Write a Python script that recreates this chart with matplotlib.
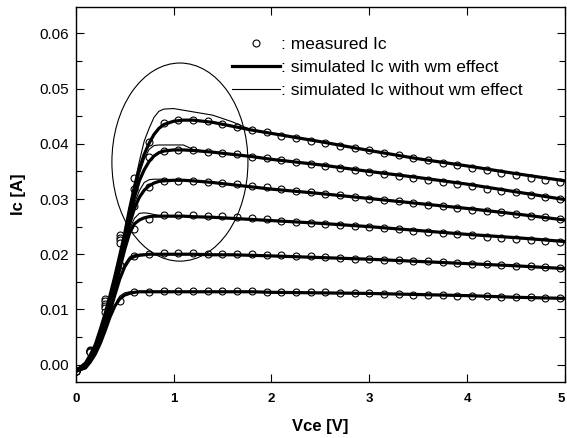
import matplotlib
matplotlib.use("Agg")
import matplotlib.pyplot as plt
from matplotlib.patches import Ellipse
from matplotlib.lines import Line2D
from matplotlib.ticker import MultipleLocator, FixedLocator

plt.rcParams['font.family'] = ['Liberation Sans', 'DejaVu Sans']

# ---------------- data ----------------
v_meas = [0.00, 0.15, 0.30, 0.45, 0.60, 0.75, 0.90, 1.05, 1.20, 1.35, 1.50, 1.65,
          1.80, 1.95, 2.10, 2.25, 2.40, 2.55, 2.70, 2.85, 3.00, 3.15, 3.30, 3.45,
          3.60, 3.75, 3.90, 4.05, 4.20, 4.35, 4.50, 4.65, 4.80, 4.95]

meas_1 = [-0.0012, 0.0026, 0.0118, 0.0234, 0.0338, 0.0403, 0.0437, 0.0444, 0.0444, 0.0442, 0.0436, 0.0430,
          0.0425, 0.0421, 0.0415, 0.0411, 0.0406, 0.0401, 0.0397, 0.0392, 0.0388, 0.0383, 0.0379, 0.0374,
          0.0370, 0.0365, 0.0361, 0.0357, 0.0352, 0.0348, 0.0343, 0.0339, 0.0334, 0.0330]
meas_2 = [-0.0012, 0.0025, 0.0115, 0.0230, 0.0318, 0.0376, 0.0387, 0.0389, 0.0389, 0.0386, 0.0383, 0.0381,
          0.0377, 0.0374, 0.0371, 0.0367, 0.0363, 0.0360, 0.0356, 0.0352, 0.0349, 0.0345, 0.0341, 0.0338,
          0.0334, 0.0330, 0.0327, 0.0323, 0.0319, 0.0315, 0.0312, 0.0308, 0.0304, 0.0300]
meas_3 = [-0.0012, 0.0024, 0.0110, 0.0225, 0.0287, 0.0322, 0.0332, 0.0333, 0.0333, 0.0331, 0.0329, 0.0327,
          0.0324, 0.0321, 0.0318, 0.0315, 0.0313, 0.0310, 0.0307, 0.0304, 0.0301, 0.0298, 0.0296, 0.0293,
          0.0290, 0.0287, 0.0284, 0.0281, 0.0279, 0.0276, 0.0273, 0.0270, 0.0267, 0.0264]
meas_4 = [-0.0012, 0.0024, 0.0106, 0.0220, 0.0245, 0.0264, 0.0271, 0.0271, 0.0271, 0.0270, 0.0269, 0.0268,
          0.0265, 0.0263, 0.0261, 0.0259, 0.0257, 0.0255, 0.0253, 0.0251, 0.0249, 0.0247, 0.0245, 0.0243,
          0.0241, 0.0239, 0.0236, 0.0234, 0.0232, 0.0230, 0.0228, 0.0226, 0.0224, 0.0222]
meas_5 = [-0.0012, 0.0023, 0.0102, 0.0180, 0.0196, 0.0201, 0.0202, 0.0202, 0.0202, 0.0201, 0.0201, 0.0200,
          0.0200, 0.0199, 0.0198, 0.0197, 0.0196, 0.0195, 0.0194, 0.0192, 0.0191, 0.0190, 0.0189, 0.0188,
          0.0187, 0.0186, 0.0184, 0.0183, 0.0182, 0.0180, 0.0179, 0.0178, 0.0176, 0.0175]
meas_6 = [-0.0012, 0.0022, 0.0095, 0.0115, 0.0131, 0.0132, 0.0133, 0.0133, 0.0133, 0.0133, 0.0133, 0.0133,
          0.0133, 0.0132, 0.0132, 0.0132, 0.0131, 0.0131, 0.0130, 0.0130, 0.0129, 0.0128, 0.0128, 0.0127,
          0.0126, 0.0126, 0.0125, 0.0124, 0.0124, 0.0123, 0.0122, 0.0122, 0.0121, 0.0120]

v_sim = [0.0, 0.1, 0.15, 0.2, 0.25, 0.3, 0.35, 0.4, 0.45, 0.5, 0.55, 0.6, 0.65, 0.7, 0.75, 0.8,
         0.85, 0.9, 1.0, 1.1, 1.2, 1.4, 1.6, 1.8, 2.0, 2.5, 3.0, 3.5, 4.0, 4.5, 5.0]

# simulated Ic with wm effect
wm_1 = [-0.0012, 0.0003, 0.0018, 0.0036, 0.0063, 0.0092, 0.0125, 0.0160, 0.0198, 0.0237, 0.0282, 0.0322, 0.0355, 0.0381, 0.0401, 0.0417,
        0.0428, 0.0435, 0.0441, 0.0443, 0.0443, 0.0439, 0.0432, 0.0425, 0.0419, 0.0404, 0.0388, 0.0373, 0.0360, 0.0346, 0.0333]
wm_2 = [-0.0012, 0.0000, 0.0014, 0.0032, 0.0057, 0.0085, 0.0117, 0.0152, 0.0190, 0.0229, 0.0268, 0.0303, 0.0333, 0.0353, 0.0368, 0.0378,
        0.0384, 0.0387, 0.0389, 0.0389, 0.0388, 0.0385, 0.0381, 0.0377, 0.0372, 0.0362, 0.0350, 0.0339, 0.0327, 0.0313, 0.0299]
wm_3 = [-0.0012, -0.0002, 0.0011, 0.0028, 0.0052, 0.0079, 0.0110, 0.0145, 0.0182, 0.0219, 0.0254, 0.0283, 0.0303, 0.0316, 0.0324, 0.0329,
        0.0332, 0.0333, 0.0334, 0.0334, 0.0333, 0.0330, 0.0326, 0.0322, 0.0318, 0.0310, 0.0301, 0.0292, 0.0283, 0.0273, 0.0262]
wm_4 = [-0.0012, -0.0004, 0.0009, 0.0025, 0.0048, 0.0074, 0.0104, 0.0138, 0.0173, 0.0208, 0.0238, 0.0255, 0.0262, 0.0266, 0.0268, 0.0269,
        0.0269, 0.0269, 0.0269, 0.0269, 0.0268, 0.0267, 0.0265, 0.0263, 0.0261, 0.0256, 0.0250, 0.0243, 0.0236, 0.0230, 0.0223]
wm_5 = [-0.0012, -0.0005, 0.0007, 0.0022, 0.0043, 0.0068, 0.0096, 0.0126, 0.0155, 0.0177, 0.0191, 0.0196, 0.0198, 0.0199, 0.0200, 0.0200,
        0.0200, 0.0200, 0.0200, 0.0200, 0.0200, 0.0199, 0.0199, 0.0198, 0.0197, 0.0194, 0.0191, 0.0187, 0.0183, 0.0179, 0.0174]
wm_6 = [-0.0012, -0.0006, 0.0005, 0.0019, 0.0038, 0.0061, 0.0086, 0.0106, 0.0119, 0.0126, 0.0129, 0.0131, 0.0132, 0.0132, 0.0132, 0.0132,
        0.0132, 0.0132, 0.0132, 0.0132, 0.0132, 0.0132, 0.0132, 0.0132, 0.0131, 0.0130, 0.0129, 0.0127, 0.0125, 0.0122, 0.0120]

# simulated Ic without wm effect
nowm_1 = [-0.0012, 0.0003, 0.0018, 0.0036, 0.0063, 0.0092, 0.0125, 0.0160, 0.0198, 0.0240, 0.0285, 0.0327, 0.0368, 0.0405, 0.0428, 0.0448,
          0.0459, 0.0463, 0.0464, 0.0461, 0.0458, 0.0452, 0.0440, 0.0425, 0.0419, 0.0404, 0.0388, 0.0373, 0.0360, 0.0346, 0.0333]
nowm_2 = [-0.0012, 0.0000, 0.0014, 0.0032, 0.0057, 0.0085, 0.0117, 0.0152, 0.0190, 0.0230, 0.0270, 0.0308, 0.0345, 0.0372, 0.0390, 0.0397,
          0.0398, 0.0398, 0.0398, 0.0398, 0.0390, 0.0385, 0.0381, 0.0377, 0.0372, 0.0362, 0.0350, 0.0339, 0.0327, 0.0313, 0.0299]
nowm_3 = [-0.0012, -0.0002, 0.0011, 0.0028, 0.0052, 0.0079, 0.0110, 0.0145, 0.0182, 0.0221, 0.0258, 0.0292, 0.0315, 0.0330, 0.0335, 0.0336,
          0.0336, 0.0336, 0.0335, 0.0334, 0.0333, 0.0330, 0.0326, 0.0322, 0.0318, 0.0310, 0.0301, 0.0292, 0.0283, 0.0273, 0.0262]
nowm_4 = [-0.0012, -0.0004, 0.0009, 0.0025, 0.0048, 0.0074, 0.0104, 0.0138, 0.0175, 0.0212, 0.0245, 0.0265, 0.0274, 0.0275, 0.0274, 0.0272,
          0.0270, 0.0269, 0.0269, 0.0269, 0.0268, 0.0267, 0.0265, 0.0263, 0.0261, 0.0256, 0.0250, 0.0243, 0.0236, 0.0230, 0.0223]
nowm_5 = [-0.0012, -0.0005, 0.0007, 0.0022, 0.0043, 0.0068, 0.0096, 0.0126, 0.0157, 0.0182, 0.0195, 0.0199, 0.0200, 0.0200, 0.0200, 0.0200,
          0.0200, 0.0200, 0.0200, 0.0200, 0.0200, 0.0199, 0.0199, 0.0198, 0.0197, 0.0194, 0.0191, 0.0187, 0.0183, 0.0179, 0.0174]
nowm_6 = [-0.0012, -0.0006, 0.0005, 0.0019, 0.0038, 0.0061, 0.0086, 0.0108, 0.0124, 0.0130, 0.0132, 0.0132, 0.0132, 0.0132, 0.0132, 0.0132,
          0.0132, 0.0132, 0.0132, 0.0132, 0.0132, 0.0132, 0.0132, 0.0132, 0.0131, 0.0130, 0.0129, 0.0127, 0.0125, 0.0122, 0.0120]

# highlighted region (ellipse) in data units
ellipse_center = (1.065, 0.0367)
ellipse_width = 1.39
ellipse_height = 0.0359

x_ticks = [0, 1, 2, 3, 4, 5]
x_ticklabels = ['0', '1', '2', '3', '4', '5']
y_ticks = [0.00, 0.01, 0.02, 0.03, 0.04, 0.05, 0.06]
y_ticklabels = ['0.00', '0.01', '0.02', '0.03', '0.04', '0.05', '0.06']

legend_labels = [': measured Ic', ': simulated Ic with wm effect', ': simulated Ic without wm effect']

# ---------------- plot ----------------
fig = plt.figure(figsize=(5.67, 4.38), dpi=100)
ax = fig.add_axes([0.1335, 0.1285, 0.8630, 0.8555])

meas = [meas_1, meas_2, meas_3, meas_4, meas_5, meas_6]
wm = [wm_1, wm_2, wm_3, wm_4, wm_5, wm_6]
nowm = [nowm_1, nowm_2, nowm_3, nowm_4, nowm_5, nowm_6]

for m in meas:
    ax.plot(v_meas, m, linestyle='none', marker='o', ms=5.0, mfc='white',
            mec='black', mew=0.8, zorder=2)
for n in nowm:
    ax.plot(v_sim, n, color='black', lw=0.8, zorder=2.5)
for w in wm:
    ax.plot(v_sim, w, color='black', lw=2.3, zorder=3)

ax.add_patch(Ellipse(ellipse_center, ellipse_width, ellipse_height,
                     fill=False, edgecolor='black', lw=0.8, zorder=4))

ax.set_xlim(0, 5)
ax.set_ylim(-0.0031, 0.0648)

ax.xaxis.set_major_locator(FixedLocator(x_ticks))
ax.set_xticklabels(x_ticklabels, fontweight='bold', fontsize=9.5)
ax.get_xticklabels()[-1].set_horizontalalignment('right')
ax.yaxis.set_major_locator(FixedLocator(y_ticks))
ax.set_yticklabels(y_ticklabels, fontsize=11)
ax.yaxis.set_minor_locator(MultipleLocator(0.005))

ax.tick_params(axis='both', which='both', direction='in', top=True, right=True)
ax.tick_params(axis='both', which='major', length=6, width=0.8)
ax.tick_params(axis='both', which='minor', length=4, width=0.8)
ax.tick_params(axis='x', pad=8)
ax.tick_params(axis='y', pad=5)

for s in ax.spines.values():
    s.set_linewidth(1.0)

ax.set_xlabel('Vce [V]', fontsize=12, fontweight='bold')
ax.set_ylabel('Ic [A]', fontsize=12, fontweight='bold')
ax.xaxis.set_label_coords(0.499, -0.10)
ax.yaxis.set_label_coords(-0.102, 0.5)

handles = [
    Line2D([], [], linestyle='none', marker='o', ms=5.0, mfc='white', mec='black', mew=0.8),
    Line2D([], [], color='black', lw=2.3),
    Line2D([], [], color='black', lw=0.8),
]
leg = ax.legend(handles, legend_labels, loc='upper left', frameon=False,
                bbox_to_anchor=(232 / 567, 1 - 37 / 438), bbox_transform=fig.transFigure,
                fontsize=12.5, handlelength=2.75, handletextpad=0.1, labelspacing=0.45,
                numpoints=1, borderpad=0, borderaxespad=0)

fig.savefig('out.png', dpi=100)
